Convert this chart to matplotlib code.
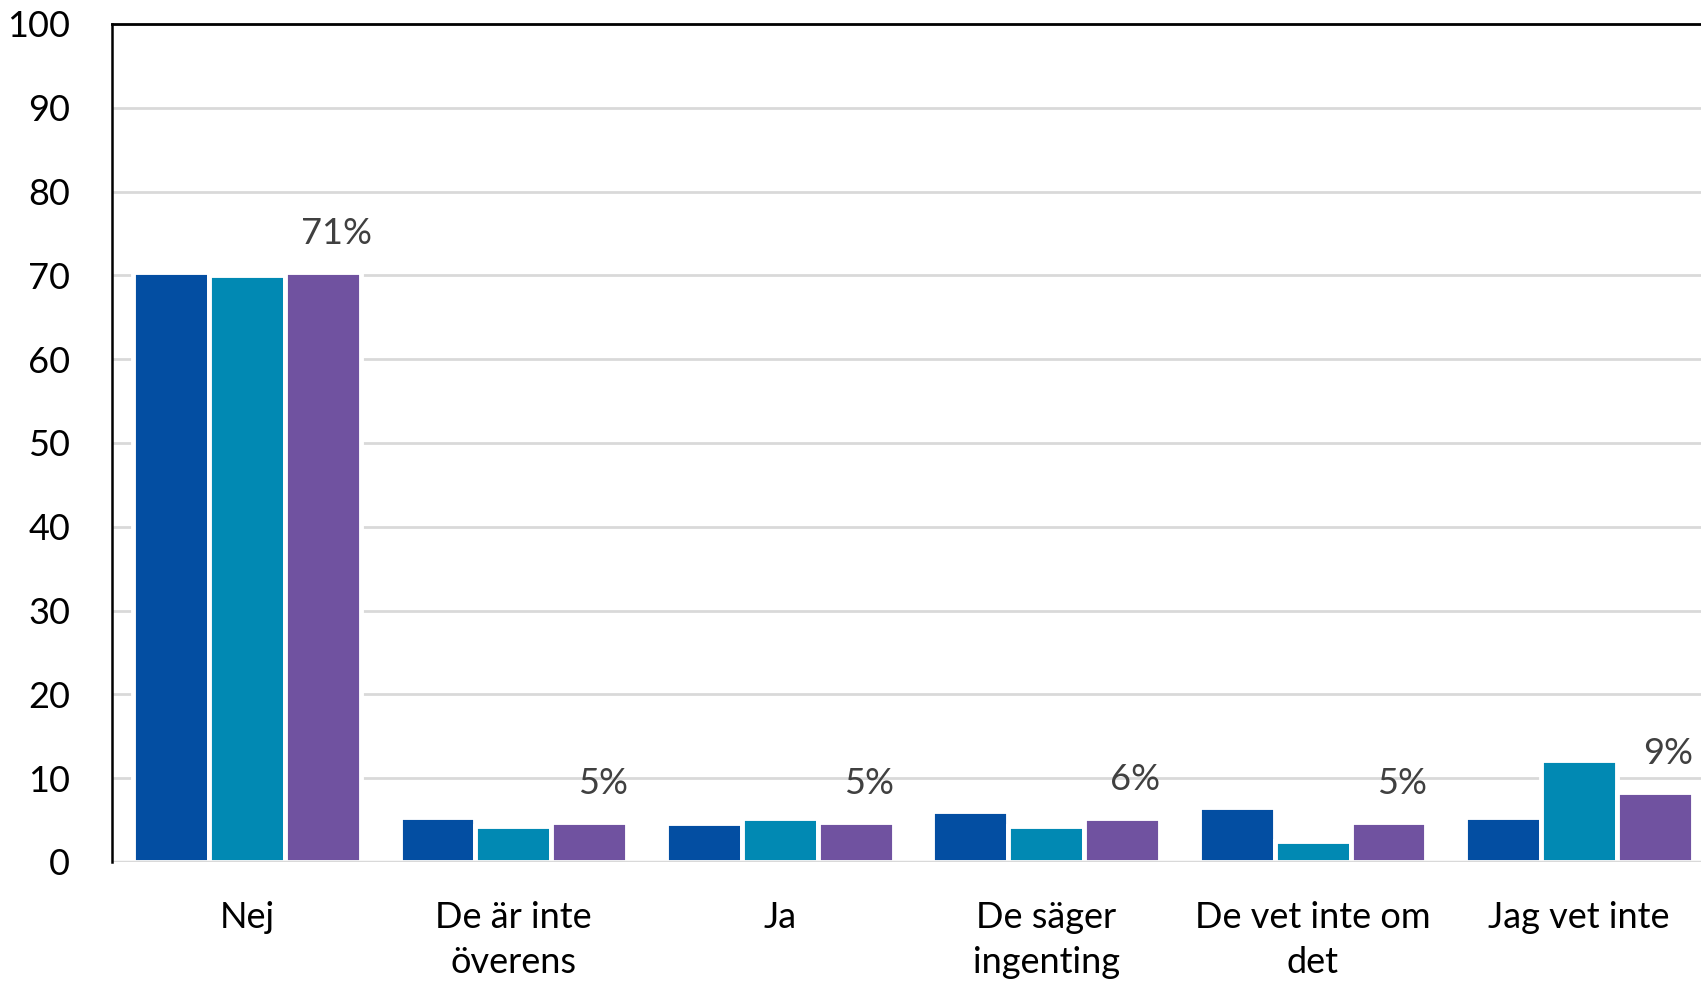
import matplotlib
matplotlib.use("Agg")
import matplotlib.pyplot as plt
import numpy as np

categories = ["Nej", "De är inte\növerens", "Ja", "De säger\ningenting", "De vet inte om\ndet", "Jag vet inte"]
series_a = [70.4, 5.4, 4.7, 6.1, 6.6, 5.4]
series_b = [70.1, 4.3, 5.2, 4.3, 2.5, 12.2]
series_c = [70.4, 4.8, 4.8, 5.3, 4.8, 8.4]
pct_labels = ["71%", "5%", "5%", "6%", "5%", "9%"]
yticks = [0, 10, 20, 30, 40, 50, 60, 70, 80, 90, 100]

colors = ["#034EA2", "#0189B3", "#7052A0"]

plt.rcParams['font.family'] = ['Lato', 'DejaVu Sans']

fig = plt.figure(figsize=(17.01, 9.83), dpi=100)
ax = fig.add_axes([0.0658, 0.1231, 0.9342, 0.8525])

x = np.arange(len(categories))
pitch = 0.285
for i, (vals, c) in enumerate(zip([series_a, series_b, series_c], colors)):
    ax.bar(x + (i - 1) * pitch, vals, width=pitch, color=c, edgecolor="white",
           linewidth=3.5, zorder=3)

for xi, v, lab in zip(x, series_c, pct_labels):
    ax.text(xi + pitch + 0.05, v + 2.6, lab, ha="center", va="bottom",
            fontsize=26, color="#404040", zorder=5)

ax.set_xlim(-0.507, 5.458)
ax.set_ylim(0, 100)
ax.set_yticks(yticks)
ax.set_xticks(x)
ax.set_xticklabels(categories, fontsize=26, linespacing=1.45)
ax.tick_params(axis="y", labelsize=26, length=0, pad=30)
ax.tick_params(axis="x", length=0, pad=28)
for lab in ax.get_xticklabels():
    lab.set_verticalalignment("top")

ax.yaxis.grid(True, color="#d9d9d9", linewidth=2, zorder=0)
ax.set_axisbelow(True)
ax.axhline(0, color="#d9d9d9", linewidth=2.5, zorder=4)

ax.spines["right"].set_visible(False)
ax.spines["bottom"].set_visible(False)
ax.spines["left"].set_color("black")
ax.spines["left"].set_linewidth(1.8)
ax.spines["top"].set_color("black")
ax.spines["top"].set_linewidth(2)
ax.spines["left"].set_zorder(6)

fig.savefig("out.png", dpi=100)
